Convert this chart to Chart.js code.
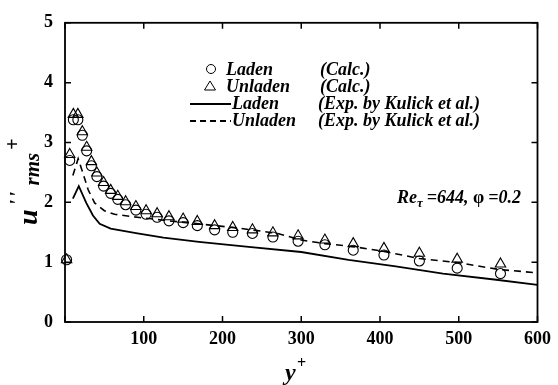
<!DOCTYPE html>
<html><head><meta charset="utf-8">
<script src="https://cdn.jsdelivr.net/npm/chart.js@4/dist/chart.umd.min.js"></script>
<style>html,body{margin:0;padding:0;background:#fff}canvas{display:block}</style>
</head><body>
<canvas id="c" width="558" height="385"></canvas>
<script>
// ---- data ----
const calcX       = [2, 6, 10.6, 16.3, 22, 27.5, 33.5, 40.5, 49, 58, 67, 77, 90, 103, 117, 132, 150, 168, 190, 213, 238, 264, 296, 330, 366, 405, 450, 498, 553];
const ladenCalc   = [1.04, 2.70, 3.38, 3.38, 3.12, 2.86, 2.61, 2.43, 2.27, 2.15, 2.05, 1.96, 1.87, 1.80, 1.75, 1.69, 1.66, 1.61, 1.54, 1.50, 1.48, 1.42, 1.35, 1.29, 1.20, 1.12, 1.02, 0.90, 0.81];
const unladenCalc = [1.04, 2.80, 3.47, 3.47, 3.18, 2.92, 2.68, 2.49, 2.33, 2.20, 2.10, 2.01, 1.93, 1.86, 1.81, 1.76, 1.72, 1.68, 1.61, 1.58, 1.54, 1.49, 1.44, 1.37, 1.31, 1.23, 1.15, 1.05, 0.97];
const ladenExpX   = [10, 17.5, 27, 35.5, 44, 58, 92, 125, 170, 230, 300, 360, 420, 480, 545, 600];
const ladenExp    = [2.06, 2.27, 1.99, 1.78, 1.64, 1.56, 1.48, 1.41, 1.34, 1.26, 1.17, 1.04, 0.93, 0.81, 0.71, 0.62];
const unladenExpX = [10, 16.7, 23, 29.4, 37.6, 50, 63, 92, 125, 170, 220, 270, 300, 330, 366, 405, 450, 500, 550, 600];
const unladenExp  = [2.45, 2.73, 2.48, 2.21, 1.99, 1.86, 1.80, 1.75, 1.70, 1.64, 1.57, 1.48, 1.37, 1.31, 1.26, 1.18, 1.06, 0.99, 0.88, 0.82];
const xTickValues = [100, 200, 300, 400, 500, 600];
const yTickValues = [0, 1, 2, 3, 4, 5];
const seriesNames = ['Laden', 'Unladen', 'Laden', 'Unladen'];
const seriesSources = ['(Calc.)', '(Calc.)', '(Exp. by Kulick et al.)', '(Exp. by Kulick et al.)'];

const pts = (xs, ys) => xs.map((x, i) => ({x, y: ys[i]}));
const SERIF = "'Liberation Serif', 'Times New Roman', serif";

const framePlugin = {
  id: 'frame',
  afterDraw(chart) {
    const {ctx, chartArea: a, scales} = chart;
    ctx.save();
    ctx.strokeStyle = '#000';
    ctx.lineWidth = 1.8;
    ctx.strokeRect(a.left, a.top, a.right - a.left, a.bottom - a.top);
    ctx.lineWidth = 1.5;
    const L = 6;
    ctx.beginPath();
    [0].concat(xTickValues).forEach(v => {
      const px = scales.x.getPixelForValue(v);
      ctx.moveTo(px, a.bottom); ctx.lineTo(px, a.bottom - L);
      ctx.moveTo(px, a.top); ctx.lineTo(px, a.top + L);
    });
    yTickValues.forEach(v => {
      const py = scales.y.getPixelForValue(v);
      ctx.moveTo(a.left, py); ctx.lineTo(a.left + L, py);
      ctx.moveTo(a.right, py); ctx.lineTo(a.right - L, py);
    });
    ctx.stroke();

    // legend
    const rowsY = [70, 87, 104, 121];
    ctx.fillStyle = '#000';
    ctx.font = 'bold italic 18px ' + SERIF;
    ctx.textBaseline = 'middle';
    ctx.lineWidth = 1;
    rowsY.forEach((y, i) => {
      const ds = chart.data.datasets[i];
      ctx.beginPath();
      if (i === 0) {
        ctx.arc(211, y - 1, 4.5, 0, Math.PI * 2); ctx.stroke();
      } else if (i === 1) {
        ctx.moveTo(210, y - 6); ctx.lineTo(215.5, y + 3); ctx.lineTo(204.5, y + 3); ctx.closePath(); ctx.stroke();
      } else {
        ctx.lineWidth = 1.8;
        ctx.setLineDash(i === 3 ? [6, 4] : []);
        ctx.moveTo(190, y); ctx.lineTo(231, y); ctx.stroke();
        ctx.setLineDash([]);
        ctx.lineWidth = 1;
      }
      ctx.textAlign = 'left';
      ctx.fillText(ds.label, i < 2 ? 226 : 232, y);
      ctx.fillText(seriesSources[i], i < 2 ? 320 : 318, y);
    });

    // annotation Re_tau = 644, phi = 0.2
    let x = 397; const yb = 203;
    ctx.textBaseline = 'alphabetic';
    ctx.font = 'bold italic 18px ' + SERIF;
    ctx.fillText('Re', x, yb); x += ctx.measureText('Re').width;
    ctx.font = 'bold italic 13px ' + SERIF;
    ctx.fillText('\u03C4', x, yb + 4); x += ctx.measureText('\u03C4').width + 4;
    ctx.font = 'bold italic 18px ' + SERIF;
    ctx.fillText('=644, ', x, yb); x += ctx.measureText('=644, ').width;
    ctx.font = 'bold 18px ' + SERIF;
    ctx.fillText('\u03C6', x, yb); x += ctx.measureText('\u03C6').width + 4;
    ctx.font = 'bold italic 18px ' + SERIF;
    ctx.fillText('=0.2', x, yb);

    // x title
    ctx.font = 'bold italic 24px ' + SERIF;
    ctx.fillText('y', 285, 380);
    ctx.font = 'bold 16px ' + SERIF;
    ctx.fillText('+', 297, 368);

    // y title (rotated)
    ctx.save();
    ctx.translate(37, 225);
    ctx.rotate(-Math.PI / 2);
    ctx.font = 'bold italic 28px ' + SERIF;
    let t = 0;
    ctx.fillText('u', t, 0); t += ctx.measureText('u').width + 4;
    ctx.font = 'bold italic 20px ' + SERIF;
    ctx.fillText("'", t, -13); t += 8;
    ctx.fillText("'", t, -13); t += 12;
    ctx.font = 'bold italic 21px ' + SERIF;
    ctx.fillText('rms', t, 2);
    const rw = ctx.measureText('rms').width;
    ctx.font = 'bold 20px ' + SERIF;
    ctx.fillText('+', t + rw + 3, -18);
    ctx.restore();
    ctx.restore();
  }
};

new Chart(document.getElementById('c'), {
  type: 'scatter',
  data: {
    datasets: [
      {label: seriesNames[0], data: pts(calcX, ladenCalc), pointStyle: 'circle', pointRadius: 5,
       borderColor: '#000', backgroundColor: 'rgba(0,0,0,0)', borderWidth: 1.1, showLine: false, clip: false},
      {label: seriesNames[1], data: pts(calcX, unladenCalc), pointStyle: 'triangle', pointRadius: 6,
       borderColor: '#000', backgroundColor: 'rgba(0,0,0,0)', borderWidth: 1.1, showLine: false, clip: false},
      {label: seriesNames[2], data: pts(ladenExpX, ladenExp), showLine: true, pointRadius: 0,
       borderColor: '#000', borderWidth: 1.8, tension: 0},
      {label: seriesNames[3], data: pts(unladenExpX, unladenExp), showLine: true, pointRadius: 0,
       borderColor: '#000', borderWidth: 1.6, borderDash: [7, 5], tension: 0}
    ]
  },
  options: {
    responsive: false,
    animation: false,
    events: [],
    layout: {padding: {top: 16, right: 14, left: 0, bottom: 0}},
    plugins: {legend: {display: false}, tooltip: {enabled: false}},
    scales: {
      x: {
        type: 'linear', min: 0, max: 600,
        afterFit(s) { s.height = 63; },
        afterBuildTicks(s) { s.ticks = [0].concat(xTickValues).map(v => ({value: v})); },
        grid: {display: false, drawTicks: false},
        border: {display: false},
        ticks: {color: '#000', padding: 7, maxRotation: 0, autoSkip: false,
          font: {family: SERIF, weight: 'bold', size: 18},
          callback: v => (v === 0 ? '' : String(v))}
      },
      y: {
        type: 'linear', min: 0, max: 5,
        afterFit(s) { s.width = 65; },
        afterBuildTicks(s) { s.ticks = yTickValues.map(v => ({value: v})); },
        grid: {display: false, drawTicks: false},
        border: {display: false},
        ticks: {color: '#000', padding: 12,
          font: {family: SERIF, weight: 'bold', size: 18}}
      }
    }
  },
  plugins: [framePlugin]
});
</script>
</body></html>
